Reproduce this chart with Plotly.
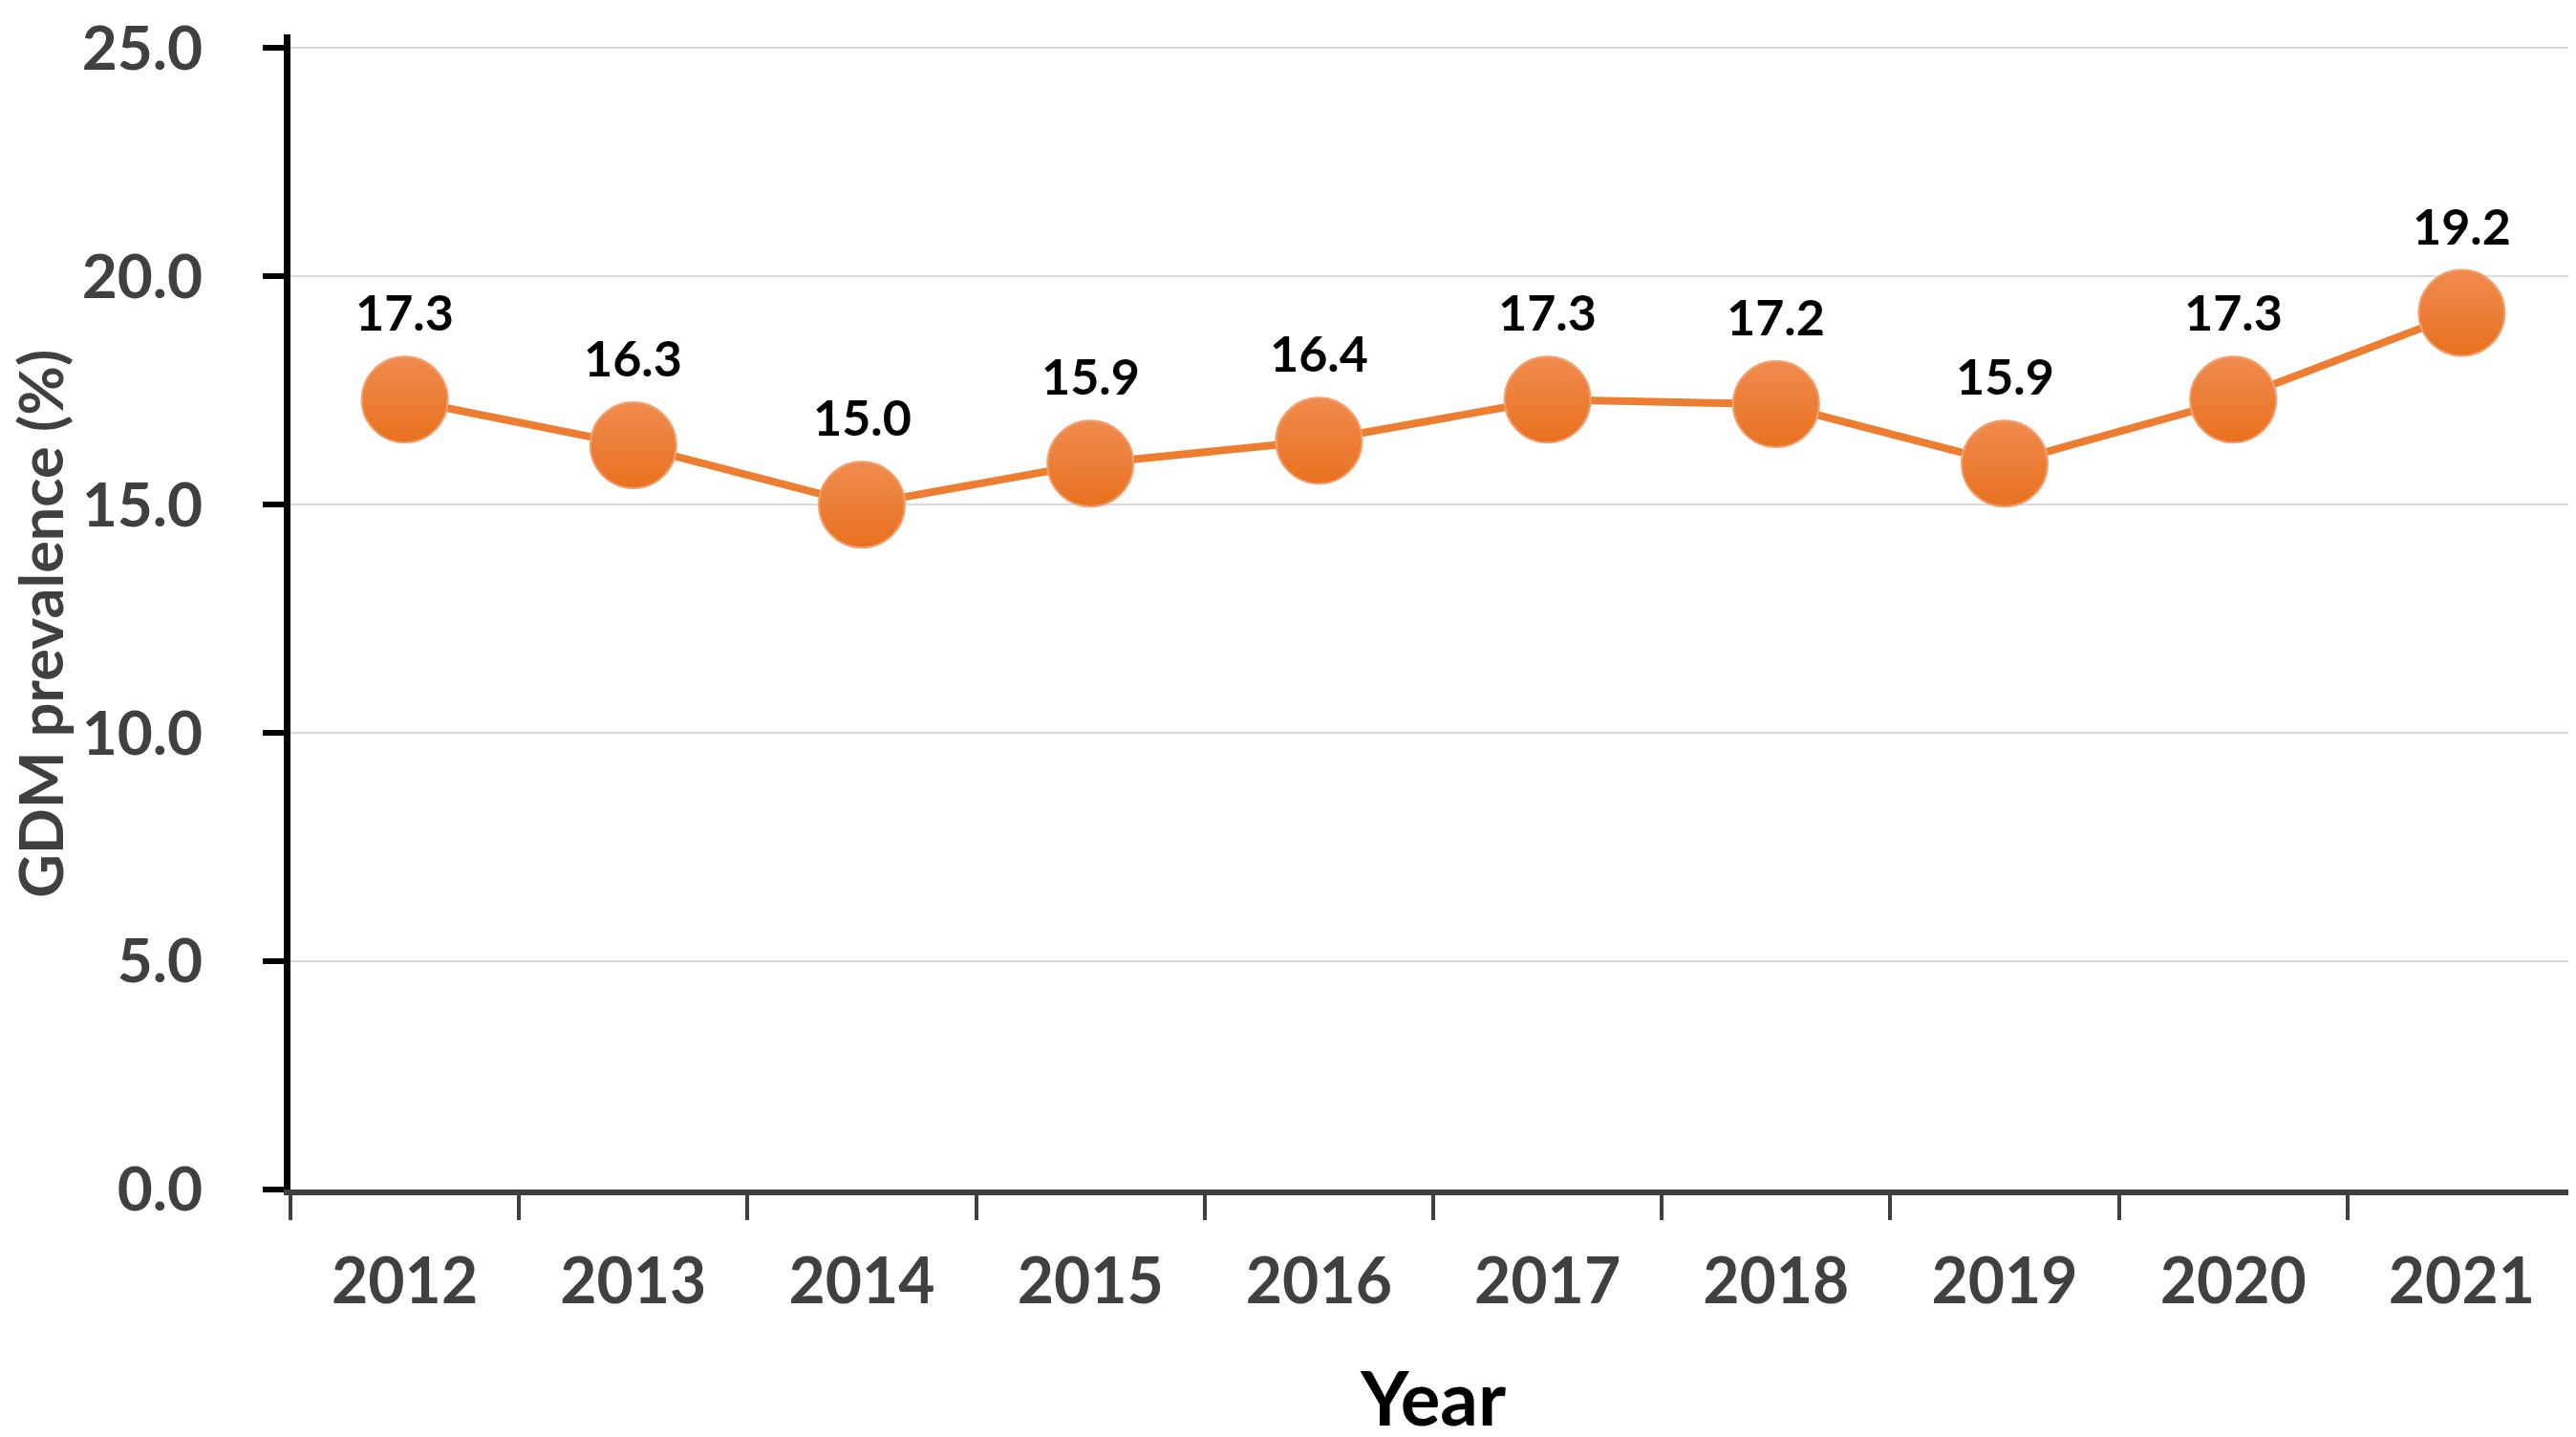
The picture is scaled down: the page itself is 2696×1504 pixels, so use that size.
import plotly.graph_objects as go

# GDM prevalence by year
years = ["2012", "2013", "2014", "2015", "2016", "2017", "2018", "2019", "2020", "2021"]
prevalence = [17.3, 16.3, 15.0, 15.9, 16.4, 17.3, 17.2, 15.9, 17.3, 19.2]
y_ticks = [0, 5, 10, 15, 20, 25]
y_tick_text = ["0.0", "5.0", "10.0", "15.0", "20.0", "25.0"]

FONT = "Lato"
ORANGE = "#ED7D31"
GREY = "#404040"

fig = go.Figure()

fig.add_trace(go.Scatter(
    x=years,
    y=prevalence,
    mode="lines+markers",
    line=dict(color=ORANGE, width=8),
    marker=dict(
        size=90,
        color="#F08B4F",
        gradient=dict(type="vertical", color="#E8711F"),
        line=dict(color="#F3A06E", width=2),
    ),
    hoverinfo="x+y",
    showlegend=False,
))

# value labels above the markers (category index positions)
for i, val in enumerate(prevalence):
    fig.add_annotation(
        x=i, y=val, xref="x", yref="y",
        text=f"<b>{val:.1f}</b>",
        showarrow=False, yshift=92, yanchor="middle",
        font=dict(family=FONT, size=52, color="black"),
    )

# y axis title placed by hand so it clears the shifted tick labels
fig.add_annotation(
    x=-0.1095, y=0.49, xref="paper", yref="paper",
    text="<b>GDM prevalence (%)</b>", textangle=-90,
    showarrow=False, xanchor="center", yanchor="middle",
    font=dict(family=FONT, size=63, color=GREY),
)

fig.update_layout(
    width=2696,
    height=1504,
    margin=dict(l=296, r=8, t=28, b=267, autoexpand=False),
    paper_bgcolor="white",
    plot_bgcolor="white",
    font=dict(family=FONT, color=GREY),
)

fig.update_xaxes(
    type="category",
    range=[-0.5, 9.5],
    automargin=False,
    showline=True, linecolor=GREY, linewidth=6,
    ticks="outside", tickson="boundaries", ticklen=26, tickwidth=4, tickcolor=GREY,
    tickfont=dict(family=FONT, size=66, color=GREY, weight="bold"),
    ticklabelstandoff=34,
    showgrid=False,
    title=dict(text="<b>Year</b>", font=dict(family=FONT, size=78, color="black"), standoff=62),
)

fig.update_yaxes(
    range=[0, 25.3],
    automargin=False,
    tickvals=y_ticks, ticktext=y_tick_text,
    showline=True, linecolor="black", linewidth=7,
    ticks="outside", ticklen=22, tickwidth=6, tickcolor="black",
    tickfont=dict(family=FONT, size=64, color=GREY, weight="bold"),
    ticklabelstandoff=50, ticklabeloverflow="allow",
    showgrid=True, gridcolor="#D9D9D9", gridwidth=2,
    zeroline=False,
)

fig.write_html("out.html")
